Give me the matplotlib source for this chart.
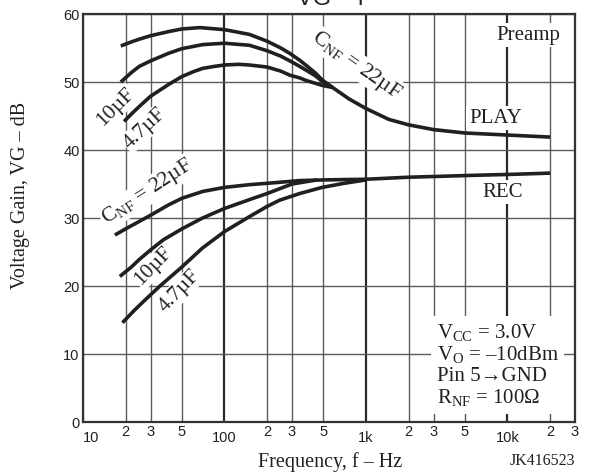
import matplotlib
matplotlib.use("Agg")
import matplotlib.pyplot as plt

plt.rcParams['mathtext.fontset'] = 'custom'
plt.rcParams['mathtext.rm'] = 'Liberation Serif'
plt.rcParams['mathtext.it'] = 'Liberation Serif:italic'

# ---------------- data ----------------
play_22_f = [18.5, 22, 25, 30, 40, 50, 67, 100, 150, 200, 250, 290, 340, 380, 440, 490, 580, 760, 1000, 1450, 2000, 3000, 5000, 10000, 20000]
play_22_v = [55.3, 55.9, 56.3, 56.8, 57.4, 57.8, 58.0, 57.7, 57.0, 56.0, 55.0, 54.2, 53.2, 52.4, 51.3, 50.3, 49.2, 47.5, 46.1, 44.5, 43.7, 43.0, 42.5, 42.2, 41.9]
play_10_f = [18.5, 22, 25, 30, 40, 50, 70, 100, 150, 200, 250, 290, 340, 380, 440, 490, 580]
play_10_v = [50.0, 51.4, 52.3, 53.1, 54.2, 54.9, 55.5, 55.7, 55.4, 54.6, 53.8, 53.1, 52.3, 51.7, 50.9, 50.1, 49.2]
play_47_f = [19.5, 22, 25, 30, 40, 50, 60, 70, 85, 100, 125, 150, 200, 250, 290, 340, 380, 440, 490, 580]
play_47_v = [44.2, 45.3, 46.4, 47.9, 49.6, 50.8, 51.5, 52.0, 52.3, 52.5, 52.6, 52.5, 52.2, 51.6, 51.0, 50.6, 50.2, 49.8, 49.5, 49.2]

rec_22_f = [16.8, 20, 25, 30, 40, 50, 70, 100, 150, 200, 340, 500, 1000, 2000, 3000, 6300, 10000, 20000]
rec_22_v = [27.5, 28.4, 29.5, 30.4, 31.9, 32.9, 33.9, 34.5, 34.9, 35.1, 35.5, 35.6, 35.7, 36.0, 36.1, 36.3, 36.4, 36.6]
rec_10_f = [18.2, 22, 25, 30, 37, 50, 70, 100, 150, 200, 300, 450]
rec_10_v = [21.4, 22.8, 23.9, 25.3, 26.8, 28.4, 30.0, 31.4, 32.7, 33.6, 35.0, 35.6]
rec_47_f = [19, 23, 27.3, 35, 50, 70, 100, 150, 200, 244, 340, 490, 700, 1000]
rec_47_v = [14.6, 16.4, 17.9, 20.0, 22.8, 25.6, 28.0, 30.2, 31.7, 32.6, 33.6, 34.5, 35.1, 35.6]

xmaj_ticks = [10, 100, 1000, 10000]
xmaj_labels = ['10', '100', '1k', '10k']
xmin_ticks = [20, 30, 50, 200, 300, 500, 2000, 3000, 5000, 20000, 30000]
xmin_labels = ['2', '3', '5', '2', '3', '5', '2', '3', '5', '2', '3']
y_ticks = [0, 10, 20, 30, 40, 50, 60]

info_lines = [r'V$_{\rm CC}$ = 3.0V', r'V$_{\rm O}$ = –10dBm', 'Pin 5→GND', r'R$_{\rm NF}$ = 100Ω']

# ---------------- figure ----------------
W, H = 596, 474
fig = plt.figure(figsize=(W / 100, H / 100), dpi=100)
ax = fig.add_axes([83 / W, (H - 422) / H, (575 - 83) / W, (422 - 14) / H])
ax.set_xscale('log')
ax.set_xlim(10, 30000)
ax.set_ylim(0, 60)

ink = '#231f20'
for f, v in [(play_22_f, play_22_v), (play_10_f, play_10_v), (play_47_f, play_47_v),
             (rec_22_f, rec_22_v), (rec_10_f, rec_10_v), (rec_47_f, rec_47_v)]:
    ax.plot(f, v, color=ink, lw=2.6, solid_capstyle='butt', solid_joinstyle='round', zorder=4)

# ticks
ax.set_xticks(xmaj_ticks)
ax.set_xticklabels(xmaj_labels)
ax.set_xticks(xmin_ticks, minor=True)
ax.set_xticklabels(xmin_labels, minor=True)
ax.set_yticks(y_ticks)
ax.set_yticklabels([str(t) for t in y_ticks])
sans = 'Liberation Sans'
ax.tick_params(axis='x', which='major', length=0, pad=6.5, labelsize=10.5, labelcolor=ink)
ax.tick_params(axis='x', which='minor', length=0, pad=2.5, labelsize=10.5, labelcolor=ink)
ax.tick_params(axis='y', length=0, pad=2.5, labelsize=10.5, labelcolor=ink)
for lbl in ax.get_xticklabels(which='both') + ax.get_yticklabels():
    lbl.set_fontfamily(sans)
ax.xaxis.get_major_ticks()[0].label1.set_horizontalalignment('left')

# grid
ax.set_axisbelow(True)
ax.grid(True, axis='x', which='major', color='#2a2a2a', lw=1.6)
ax.grid(True, axis='x', which='minor', color='#5a5a5a', lw=1.0)
ax.grid(True, axis='y', which='major', color='#5a5a5a', lw=1.0)
for s in ax.spines.values():
    s.set_color('#333333')
    s.set_linewidth(1.6)

serif = ['Liberation Serif', 'DejaVu Serif']
bb = dict(facecolor='white', edgecolor='none', pad=1.0)
lf = 15.5

# curve labels
ax.text(17.1, 46.3, '10µF', rotation=45, ha='center', va='center', fontsize=lf, family=serif, color=ink, bbox=bb, zorder=3)
ax.text(27.4, 43.2, '4.7µF', rotation=43, ha='center', va='center', fontsize=lf, family=serif, color=ink, bbox=bb, zorder=3)
ax.text(851, 52.5, r'C$_{\rm NF}$ = 22µF', rotation=-35, ha='center', va='center', fontsize=lf, family=serif, color=ink, bbox=bb, zorder=3)
ax.text(28.3, 33.8, r'C$_{\rm NF}$ = 22µF', rotation=33, ha='center', va='center', fontsize=lf, family=serif, color=ink, bbox=bb, zorder=3)
ax.text(31.6, 22.9, '10µF', rotation=46, ha='center', va='center', fontsize=lf, family=serif, color=ink, bbox=bb, zorder=3)
ax.text(48.2, 19.3, '4.7µF', rotation=46, ha='center', va='center', fontsize=lf, family=serif, color=ink, bbox=bb, zorder=3)

ax.text(14060, 56.9, 'Preamp', ha='center', va='center', fontsize=15, family=serif, color=ink,
        bbox=dict(facecolor='white', edgecolor='none', pad=2), zorder=3)
ax.text(8200, 44.7, 'PLAY', ha='center', va='center', fontsize=15, family=serif, color=ink,
        bbox=dict(facecolor='white', edgecolor='none', pad=2), zorder=3)
ax.text(9200, 33.8, 'REC', ha='center', va='center', fontsize=15, family=serif, color=ink,
        bbox=dict(facecolor='white', edgecolor='none', pad=2), zorder=3)

ax.text(3150, 8.4, '\n'.join(info_lines), ha='left', va='center', fontsize=15, family=serif, color=ink,
        linespacing=1.1, bbox=dict(facecolor='white', edgecolor='none', pad=4), zorder=3)

# axis labels & title
fig.text(330 / W, 1 - 467 / H, 'Frequency, f – Hz', ha='center', va='baseline', fontsize=14.5, family=serif, color=ink)
fig.text(575 / W, 1 - 465 / H, 'JK416523', ha='right', va='baseline', fontsize=11.5, family=serif, color=ink)
fig.text(21 / W, 1 - 195 / H, 'Voltage Gain, VG – dB', rotation=90, ha='center', va='center', fontsize=14.5, family=serif, color=ink)
fig.text(331 / W, 1 - 5 / H, 'VG – f', ha='center', va='baseline', fontsize=17, family=sans, color=ink)

fig.savefig('out.png', dpi=100)
